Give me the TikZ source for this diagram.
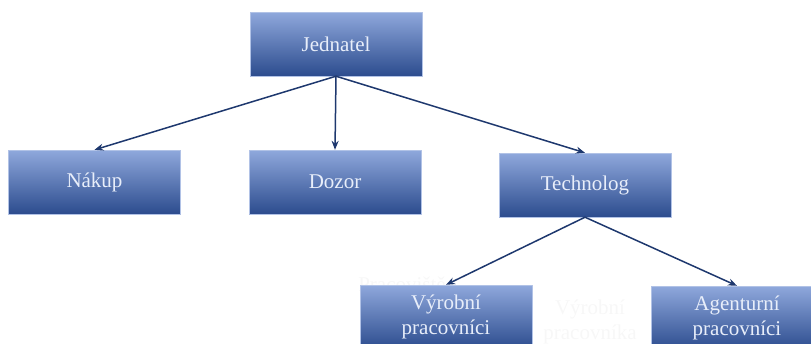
\documentclass[tikz,border=0pt]{standalone}
\usepackage{fontspec}
\setmainfont{Liberation Serif}
\usetikzlibrary{arrows.meta}
\definecolor{boxtop}{RGB}{143,168,220}
\definecolor{boxmid}{RGB}{68,112,198}
\definecolor{boxbot}{RGB}{44,76,142}
\definecolor{boxtext}{RGB}{232,238,250}
\definecolor{arrline}{RGB}{30,56,110}
\begin{document}
\begin{tikzpicture}[x=1pt, y=-1pt, line join=round,
		box/.style={rectangle, minimum width=172pt, minimum height=64pt, inner sep=0pt,
			top color=boxtop, middle color=boxmid, bottom color=boxbot, draw=boxtop!70!white, line width=0.4pt,
			text=boxtext, align=center, font=\rmfamily\fontsize{21}{25}\selectfont},
		ghost/.style={text=black!3, align=center, font=\rmfamily\fontsize{21}{25}\selectfont},
		arr/.style={-{Stealth[length=9pt, width=7pt]}, line width=1.5pt, draw=arrline}]
		\clip (0, 0) rectangle (811, 343);
		\useasboundingbox (0, 0) rectangle (811, 343);
		% vedení
		\node[box] (jed) at (336, 44) {Jednatel};
		% druhá úroveň
		\node[box] (nak) at (94.5, 182) {Nákup};
		\node[box] (doz) at (335, 182) {Dozor};
		\node[box] (tech) at (585, 185) {Technolog};
		% slabé texty v pozadí
		\node[ghost] (prac) at (402, 284) {Pracoviště};
		\node[ghost] (vypk) at (590, 322) {Výrobní\\pracovníka};
		% třetí úroveň
		\node[box] (vyr) at (446, 317) {Výrobní\\pracovníci};
		\node[box] (age) at (737, 318) {Agenturní\\pracovníci};
		% šipky
		\draw[arr] (jed.south) -- (nak.north);
		\draw[arr] (jed.south) -- (doz.north);
		\draw[arr] (jed.south) -- (tech.north);
		\draw[arr] (tech.south) -- (vyr.north);
		\draw[arr] (tech.south) -- (age.north);
	\end{tikzpicture}
\end{document}
